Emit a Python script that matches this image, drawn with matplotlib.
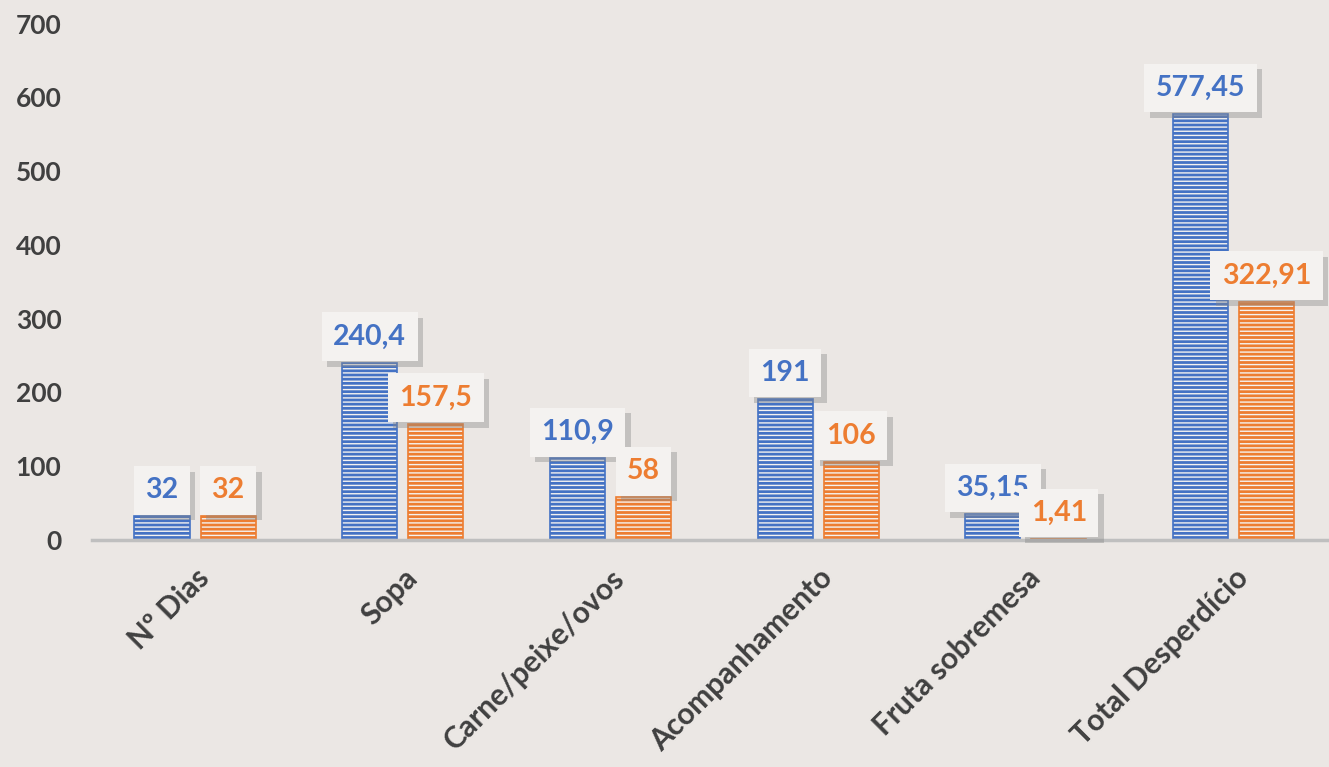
import numpy as np
import matplotlib
matplotlib.use('Agg')
import matplotlib.pyplot as plt
import matplotlib.patheffects as pe

# data
categories = ['Nº Dias', 'Sopa', 'Carne/peixe/ovos', 'Acompanhamento',
              'Fruta sobremesa', 'Total Desperdício']
serie_azul = [32, 240.4, 110.9, 191, 35.15, 577.45]
serie_laranja = [32, 157.5, 58, 106, 1.41, 322.91]
yticks = [0, 100, 200, 300, 400, 500, 600, 700]

azul = '#4472C4'
laranja = '#ED7D31'
fundo = '#EBE7E4'

plt.rcParams['font.family'] = ['Lato', 'DejaVu Sans']
plt.rcParams['hatch.linewidth'] = 1.0

fig = plt.figure(figsize=(13.29, 7.67), dpi=100)
fig.patch.set_facecolor(fundo)
ax = fig.add_axes([92/1329, 227/767, 1 - 92/1329, 540/767])
ax.set_facecolor('none')

x = np.arange(len(categories))
w = 0.265
off = 0.159


def fmt(v):
    s = ('%.2f' % v).rstrip('0').rstrip('.')
    return s.replace('.', ',')


for vals, col, dx in [(serie_azul, azul, -off), (serie_laranja, laranja, off)]:
    ax.bar(x + dx, vals, w, color=col, edgecolor='#F4F2F0', hatch='----', linewidth=0)
    ax.bar(x + dx, vals, w, fill=False, edgecolor=col, linewidth=1.2)
    for xi, v in zip(x + dx, vals):
        t = ax.annotate(fmt(v), (xi, v), xytext=(0, 26), textcoords='offset pixels',
                        ha='center', va='center', fontsize=20.5, fontweight='bold',
                        color=col,
                        bbox=dict(boxstyle='square,pad=0.4', fc='#F4F2F0', ec='none'))
        t.get_bbox_patch().set_path_effects([
            pe.withSimplePatchShadow(offset=(4, -4), shadow_rgbFace='#888888', alpha=0.4),
            pe.Normal()])

ax.set_xlim(-0.496, 5.46)
ax.set_ylim(0, 732)
ax.set_yticks(yticks)
ax.set_xticks(x)
ax.set_xticklabels(categories, rotation=45, ha='right', rotation_mode='anchor')

for s in ['top', 'right', 'left']:
    ax.spines[s].set_visible(False)
ax.spines['bottom'].set_color('#BFBFBF')
ax.spines['bottom'].set_linewidth(2.5)
ax.tick_params(axis='y', length=0, labelsize=19, labelcolor='#404040', pad=22)
ax.tick_params(axis='x', length=0, labelsize=21.5, labelcolor='#404040', pad=17)
for lab in ax.get_xticklabels() + ax.get_yticklabels():
    lab.set_fontweight('bold')

fig.savefig('out.png', dpi=100, facecolor=fundo)
